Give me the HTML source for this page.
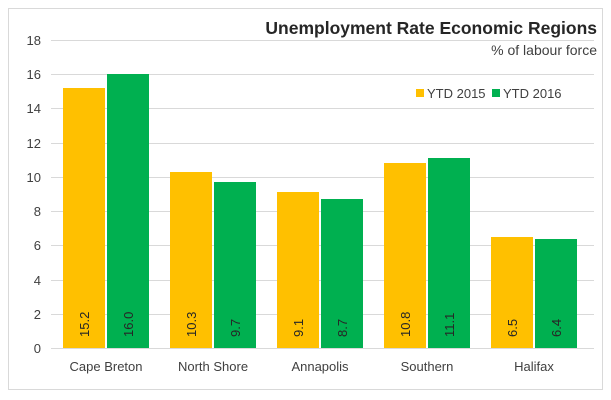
<!DOCTYPE html><html><head><style>body{margin:0;background:#fff}svg{display:block;font-family:"Liberation Sans",Calibri,sans-serif}</style></head><body>
<svg width="611" height="400" xmlns="http://www.w3.org/2000/svg">
<rect x="0" y="0" width="611" height="400" fill="#fff"/>
<rect x="8.5" y="8.5" width="594" height="381" fill="#fff" stroke="#d9d9d9"/>
<g stroke="#d9d9d9" stroke-width="1">
<line x1="51" x2="594" y1="40.5" y2="40.5"/><line x1="51" x2="594" y1="74.5" y2="74.5"/><line x1="51" x2="594" y1="108.5" y2="108.5"/><line x1="51" x2="594" y1="143.5" y2="143.5"/><line x1="51" x2="594" y1="177.5" y2="177.5"/><line x1="51" x2="594" y1="211.5" y2="211.5"/><line x1="51" x2="594" y1="245.5" y2="245.5"/><line x1="51" x2="594" y1="280.5" y2="280.5"/><line x1="51" x2="594" y1="314.5" y2="314.5"/><line x1="51" x2="594" y1="348.5" y2="348.5"/>
</g>
<g font-size="13" fill="#404040" text-anchor="end">
<text x="41" y="45">18</text><text x="41" y="79">16</text><text x="41" y="113">14</text><text x="41" y="148">12</text><text x="41" y="182">10</text><text x="41" y="216">8</text><text x="41" y="250">6</text><text x="41" y="285">4</text><text x="41" y="319">2</text><text x="41" y="353">0</text>
</g>
<g fill="#ffc000">
<rect x="63" y="88" width="42" height="260"/><rect x="170" y="172" width="42" height="176"/><rect x="277" y="192" width="42" height="156"/><rect x="384" y="163" width="42" height="185"/><rect x="491" y="237" width="42" height="111"/>
</g>
<g fill="#00b050">
<rect x="107" y="74" width="42" height="274"/><rect x="214" y="182" width="42" height="166"/><rect x="321" y="199" width="42" height="149"/><rect x="428" y="158" width="42" height="190"/><rect x="535" y="239" width="42" height="109"/>
</g>
<g font-size="13" fill="#262626">
<text transform="translate(89,337) rotate(-90)">15.2</text><text transform="translate(133,337) rotate(-90)">16.0</text>
<text transform="translate(196,337) rotate(-90)">10.3</text><text transform="translate(240,337) rotate(-90)">9.7</text>
<text transform="translate(303,337) rotate(-90)">9.1</text><text transform="translate(347,337) rotate(-90)">8.7</text>
<text transform="translate(410,337) rotate(-90)">10.8</text><text transform="translate(454,337) rotate(-90)">11.1</text>
<text transform="translate(517,337) rotate(-90)">6.5</text><text transform="translate(561,337) rotate(-90)">6.4</text>
</g>
<g font-size="13" fill="#404040" text-anchor="middle">
<text x="106" y="371">Cape Breton</text><text x="213" y="371">North Shore</text><text x="320" y="371">Annapolis</text><text x="427" y="371">Southern</text><text x="534" y="371">Halifax</text>
</g>
<text x="597" y="34" font-size="17.5" font-weight="bold" fill="#262626" text-anchor="end">Unemployment Rate Economic Regions</text>
<text x="597" y="55" font-size="14" fill="#404040" text-anchor="end">% of labour force</text>
<rect x="416" y="89" width="8" height="8" fill="#ffc000"/>
<text x="427" y="98" font-size="13" fill="#404040">YTD 2015</text>
<rect x="492" y="89" width="8" height="8" fill="#00b050"/>
<text x="503" y="98" font-size="13" fill="#404040">YTD 2016</text>
</svg>
</body></html>
